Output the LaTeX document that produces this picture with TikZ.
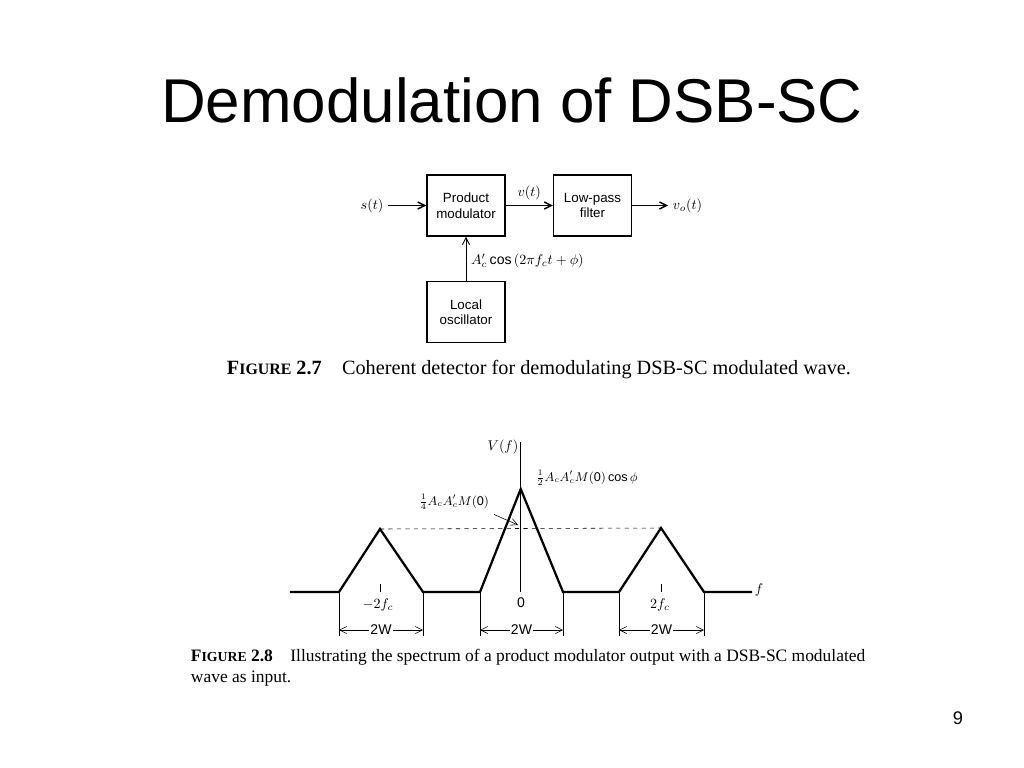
\documentclass[tikz,border=0pt]{standalone}
\usepackage{fontspec}
\setmainfont{Liberation Sans}
\newfontfamily\capfont{Liberation Serif}
\usetikzlibrary{arrows.meta}

\begin{document}
\begin{tikzpicture}[x=0.025cm,y=-0.025cm,
    >={Straight Barb[length=5pt,width=5pt]},
    block/.style={draw,line width=1pt,align=center,minimum width=1.95cm,
      minimum height=1.525cm,font=\fontsize{9.5}{11}\selectfont},
    lbl/.style={font=\fontsize{10}{12}\selectfont},
    capt/.style={anchor=west,align=left}]
  \useasboundingbox (0,0) rectangle (1024,768);
  \node (title) at (512,100) {\fontsize{44}{50}\selectfont Demodulation of DSB-SC};
  \begin{scope}
    \node[block] (pm) at (466,205.5) {Product\\modulator};
    \node[block] (lpf) at (592.5,205.5) {Low-pass\\filter};
    \node[block] (lo) at (466,312) {Local\\oscillator};
    \node[lbl] (s) at (372,205.5) {$s(t)$};
    \node[lbl,anchor=west] (vo) at (668,205.5) {$v_o(t)$};
  \end{scope}
  \begin{scope}[->, line width=1pt]
    \draw (s) -- (pm);
    \draw (pm) -- node[lbl,above]{$v(t)$} (lpf);
    \draw (lpf) -- (vo);
    \draw[line width=0.6pt] (lo) -- node[lbl,right,pos=0.45]{$A_c'\cos\left(2\pi f_c t+\phi\right)$} (pm);
  \end{scope}
  \node[capt,font=\capfont\fontsize{14.4}{17}\selectfont] (cap1) at (222,370) {{\bfseries F{\fontsize{11.3}{13}\selectfont IGURE} 2.7}\quad Coherent detector for demodulating DSB-SC modulated wave.};
  \begin{scope}
    \coordinate (pl) at (380,529);
    \coordinate (pc) at (520.7,489);
    \coordinate (pr) at (661,528);
    \coordinate (mid) at (518,525);
    \draw[line width=1.6pt] (290,592) -- (339,592) -- (pl) -- (423,592) -- (480,592)
      -- (pc) -- (563,592) -- (619,592) -- (pr) -- (704,592) -- (752,592);
    \draw[thin] (520.7,442) -- (520.7,592);
    \draw[dashed,thin] (pl) -- (pr);
    \draw[thin] (380,584) -- (380,592);
    \draw[thin] (661,584) -- (661,592);
    \node[lbl] (vf) at (503,447) {$V(f)$};
    \node[lbl] (f) at (759,590) {$f$};
    \node[anchor=west,font=\fontsize{9}{11}\selectfont] (half) at (531,478) {$\frac{1}{2}A_cA_c'M(\mathrm{0})\cos\phi$};
    \node[anchor=east,font=\fontsize{9}{11}\selectfont] (quart) at (494,502) {$\frac{1}{4}A_cA_c'M(\mathrm{0})$};
    \draw[->,thin] (quart.south east) -- (mid);
    \node[lbl] (m2fc) at (378,605) {$-2f_c$};
    \node[lbl] (zero) at (521,603) {0};
    \node[lbl] (p2fc) at (660,605) {$2f_c$};
  \end{scope}
  \begin{scope}[thin]
    \draw (339,592) -- (339,636);
    \draw (423,592) -- (423,636);
    \draw (480,592) -- (480,636);
    \draw (563,592) -- (563,636);
    \draw (619,592) -- (619,636);
    \draw (704,592) -- (704,636);
    \draw[<->] (339,630) -- node[lbl,fill=white,inner sep=1pt] (w1) {2W} (423,630);
    \draw[<->] (480,630) -- node[lbl,fill=white,inner sep=1pt] (w2) {2W} (563,630);
    \draw[<->] (619,630) -- node[lbl,fill=white,inner sep=1pt] (w3) {2W} (704,630);
  \end{scope}
  \node[capt,font=\capfont\fontsize{12.4}{15}\selectfont] (cap2) at (186,668) {{\bfseries F{\fontsize{9.8}{12}\selectfont IGURE} 2.8}\quad Illustrating the spectrum of a product modulator output with a DSB-SC modulated\\wave as input.};
  \node (pg) at (958,718) {\fontsize{13}{15}\selectfont 9};
\end{tikzpicture}
\end{document}
